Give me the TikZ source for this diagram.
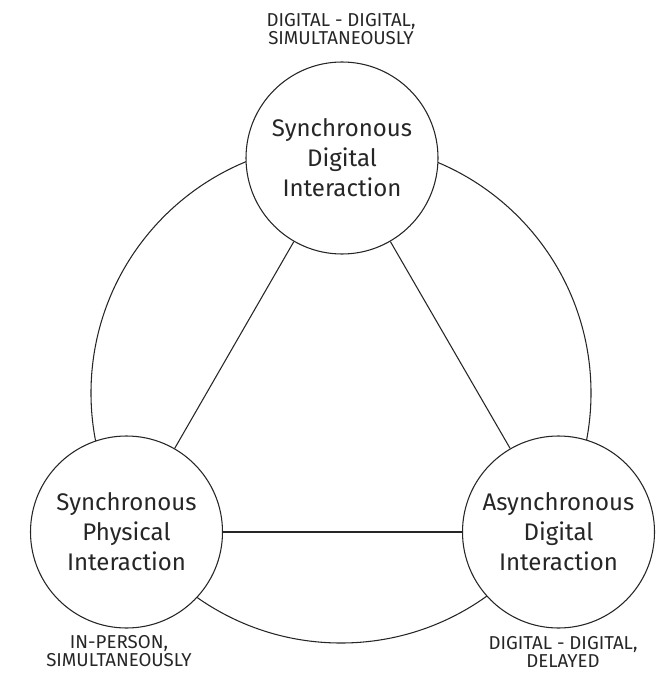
\documentclass[tikz,border=0pt]{standalone}
\usepackage{fontspec}
\setmainfont{Fira Sans}
\usepackage{tikz}
\tikzstyle{bubble} = [draw=black!85, fill=white, circle, line width=0.8pt, minimum size=144pt, inner sep=0pt, align=center, text=black!85, font=\fontsize{18}{22.5}\selectfont]
\tikzstyle{tag} = [align=center, text=black!85, inner sep=0pt, font=\fontsize{14}{13.5}\selectfont]

\begin{document}
\begin{tikzpicture}[x=0.75pt, y=-0.75pt]
	\useasboundingbox (0,0) rectangle (670,677);
	\draw[black!85, line width=0.8pt] (341,393) circle [radius=187.5pt];
	\node[bubble] (sdi) at (342,158) {Synchronous\\Digital\\Interaction};
	\node[bubble] (spi) at (126.5,532) {Synchronous\\Physical\\Interaction};
	\node[bubble] (adi) at (558.5,532) {Asynchronous\\Digital\\Interaction};
	\draw[black!85, line width=0.8pt] (sdi) -- (spi);
	\draw[black!85, line width=0.8pt] (sdi) -- (adi);
	\draw[black!85, line width=0.8pt] (spi) -- (adi);
	\node[tag] (sditag) at (341,29) {DIGITAL - DIGITAL,\\SIMULTANEOUSLY};
	\node[tag] (spitag) at (119,651) {IN-PERSON,\\SIMULTANEOUSLY};
	\node[tag] (aditag) at (563,652) {DIGITAL - DIGITAL,\\DELAYED};
\end{tikzpicture}
\end{document}
